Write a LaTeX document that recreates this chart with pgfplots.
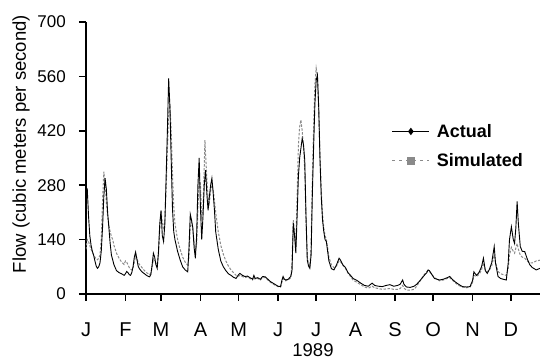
\documentclass[border=0pt]{standalone}
\usepackage{fontspec}
\setmainfont{Liberation Sans}
\usepackage{pgfplots}
\usepackage{pgfplotstable}
\pgfplotsset{compat=1.18}
\definecolor{simgray}{HTML}{8A8A8A}
\pgfplotstableread{
day flow
0 275
1 270
2 200
3 150
4 125
5 110
6 100
7 85
8 72
9 66
10 70
11 80
12 110
13 170
14 250
15 298
16 270
17 210
18 170
19 130
20 100
21 88
22 75
24 60
26 55
28 52
30 48
31 52
32 58
33 55
34 50
35 48
36 55
37 70
38 95
39 108
40 90
41 72
42 65
44 57
46 52
48 47
50 44
51 50
52 75
53 105
54 95
55 75
56 66
57 110
58 180
59 215
60 150
61 135
62 180
63 300
64 420
65 555
66 480
67 345
68 220
69 160
70 139
72 110
74 88
76 70
78 62
80 57
81 120
82 205
83 190
84 170
85 120
86 92
87 150
88 280
89 350
90 220
91 140
92 200
93 280
94 319
95 260
96 215
97 250
98 280
99 298
100 260
101 216
102 160
104 115
106 85
108 70
110 60
112 52
114 48
116 43
118 40
120 50
121 53
123 48
125 45
127 46
129 42
131 38
132 48
133 40
135 42
137 38
139 45
141 44
143 38
145 32
147 28
149 24
151 20
153 19
154 35
155 45
156 38
157 36
159 38
161 45
162 60
163 182
164 150
165 105
166 200
167 302
168 350
169 375
170 400
171 385
172 345
173 200
174 87
175 72
176 66
177 100
178 259
179 380
180 490
181 550
182 563
183 480
184 345
185 250
186 190
187 160
188 140
189 135
190 110
191 85
193 65
195 62
197 75
199 92
200 88
202 75
204 68
206 55
208 48
210 40
213 35
216 28
219 22
222 20
225 28
227 22
230 20
233 19
236 22
239 24
242 20
245 22
247 25
249 36
250 25
252 18
255 17
258 20
260 25
262 32
264 40
266 48
268 55
269 62
270 60
272 50
274 40
276 38
278 36
281 38
284 42
286 45
288 38
290 32
293 25
296 19
299 18
302 19
304 35
305 57
307 48
309 55
311 70
312.5 92
314 60
315.5 53
317 62
319 80
321 122
322 80
324 45
326 40
328 38
330.5 36
332 80
333 140
334.5 173
336 140
337 130
338 170
339 238
340 180
341.5 122
343 110
345 109
347 90
349 75
351 68
354 62
357 66
}\actual
\pgfplotstableread{
day flow
0 115
1 140
2 135
3 125
4 115
5 108
6 100
7 95
8 90
9 88
10 92
11 100
12 140
13 240
14 315
15 285
16 235
17 200
18 178
19 160
20 148
21 140
22 125
24 105
26 92
28 82
30 76
31 85
32 82
33 75
34 68
35 64
36 62
37 66
38 82
39 98
40 92
41 82
42 76
44 68
46 60
48 54
50 50
51 54
52 68
53 90
54 85
55 78
56 75
57 100
58 170
59 212
60 185
61 165
62 190
63 270
64 370
65 460
66 490
67 420
68 310
69 225
70 180
72 140
74 115
76 95
78 82
80 74
81 95
82 175
83 185
84 168
85 135
86 112
87 125
88 220
89 300
90 280
91 200
92 220
93 330
93.5 396
94 360
95 300
96 250
97 235
98 265
99 280
100 270
101 240
102 210
104 160
106 125
108 102
110 85
112 72
114 62
116 55
118 48
120 46
121 48
123 45
125 42
127 44
129 40
131 36
132 44
133 38
135 40
137 36
139 42
141 42
143 36
145 30
147 26
149 22
151 19
153 18
154 30
155 40
156 36
157 34
159 36
161 42
162 80
163 190
164 160
165 130
166 250
167 380
168 430
169 448
170 420
171 380
172 320
173 190
174 95
175 78
176 72
177 120
178 300
179 430
180 540
181 581
182 560
183 470
184 360
185 270
186 205
187 170
188 150
189 140
190 120
191 95
193 75
195 68
197 72
199 85
200 84
202 74
204 66
206 54
208 45
210 36
213 30
216 24
219 18
222 15
225 20
227 16
230 14
233 12
236 13
239 14
242 12
245 12
247 14
249 22
250 15
252 10
255 10
258 12
260 20
262 30
264 40
266 50
268 58
269 60
270 58
272 50
274 42
276 38
278 34
281 36
284 40
286 42
288 36
290 30
293 22
296 18
299 16
302 18
304 30
305 48
307 45
309 50
311 62
312.5 80
314 62
315.5 58
317 60
319 72
321 100
322 82
324 58
326 52
328 50
330.5 48
332 65
333 100
334.5 120
336 110
337 105
338 118
339 130
340 115
341.5 100
343 95
345 92
347 85
349 80
351 80
354 85
357 87
}\simulated
\begin{document}
\begin{tikzpicture}
\begin{axis}[
  name=ax,
  scale only axis,
  width=454pt, height=272pt,
  xmin=0, xmax=357, ymin=0, ymax=700,
  axis lines=left,
  axis line style={line width=1.5pt, -},
  tick align=outside,
  major tick length=7pt,
  tick style={line width=1.5pt, black},
  xtick={0,31,59,90,120,151,181,212,243,273,304,334},
  xticklabels={J,F,M,A,M,J,J,A,S,O,N,D},
  ytick={0,140,280,420,560,700},
  /pgf/number format/assume math mode=true,
  yticklabel style={font=\fontsize{17}{19}\selectfont, inner sep=0pt, anchor=east, xshift=-13pt},
  xticklabel style={font=\fontsize{20}{22}\selectfont, inner sep=0pt, anchor=base, yshift=-36pt},
  xlabel={1989},
  ylabel={Flow (cubic meters per second)},
  xlabel style={font=\fontsize{18.5}{21}\selectfont, inner sep=0pt, at={(axis description cs:0.5,0)}, anchor=base, yshift=-63pt},
  ylabel style={font=\fontsize{18.5}{21}\selectfont, inner sep=0pt, at={([xshift=-56pt]axis description cs:0,0.551)}, anchor=south},
  legend style={at={(axis cs:240.5,437)}, anchor=north west, draw=none, fill=none,
    inner sep=0pt, outer sep=0pt, nodes={inner sep=0pt},
    column sep=7pt, row sep=14.5pt,
    font=\bfseries\fontsize{18}{20}\selectfont},
  legend cell align=left,
]
\addplot[simgray, line width=1pt, dash pattern=on 2.5pt off 1.5pt, forget plot] table[x=day,y=flow]{\simulated};
\addplot[black, line width=0.9pt,
  legend image code/.code={
    \draw[black, line width=1pt] (0pt,0pt) -- (37pt,0pt);
    \draw[black, mark=diamond*, mark size=3pt] plot coordinates {(18.5pt,0pt)};
  }] table[x=day,y=flow]{\actual};
\addlegendentry{Actual}
\addlegendimage{simgray, legend image code/.code={
    \draw[simgray, line width=1pt, dash pattern=on 3pt off 4pt] (0pt,0pt) -- (37pt,0pt);
    \fill[simgray] (15pt,-3.5pt) rectangle (22pt,3.5pt);
  }}
\addlegendentry{Simulated}
\end{axis}
\pgfresetboundingbox
\path[use as bounding box] ([xshift=-86pt,yshift=-68pt]ax.south west) rectangle ([yshift=22pt]ax.north east);
\end{tikzpicture}
\end{document}
